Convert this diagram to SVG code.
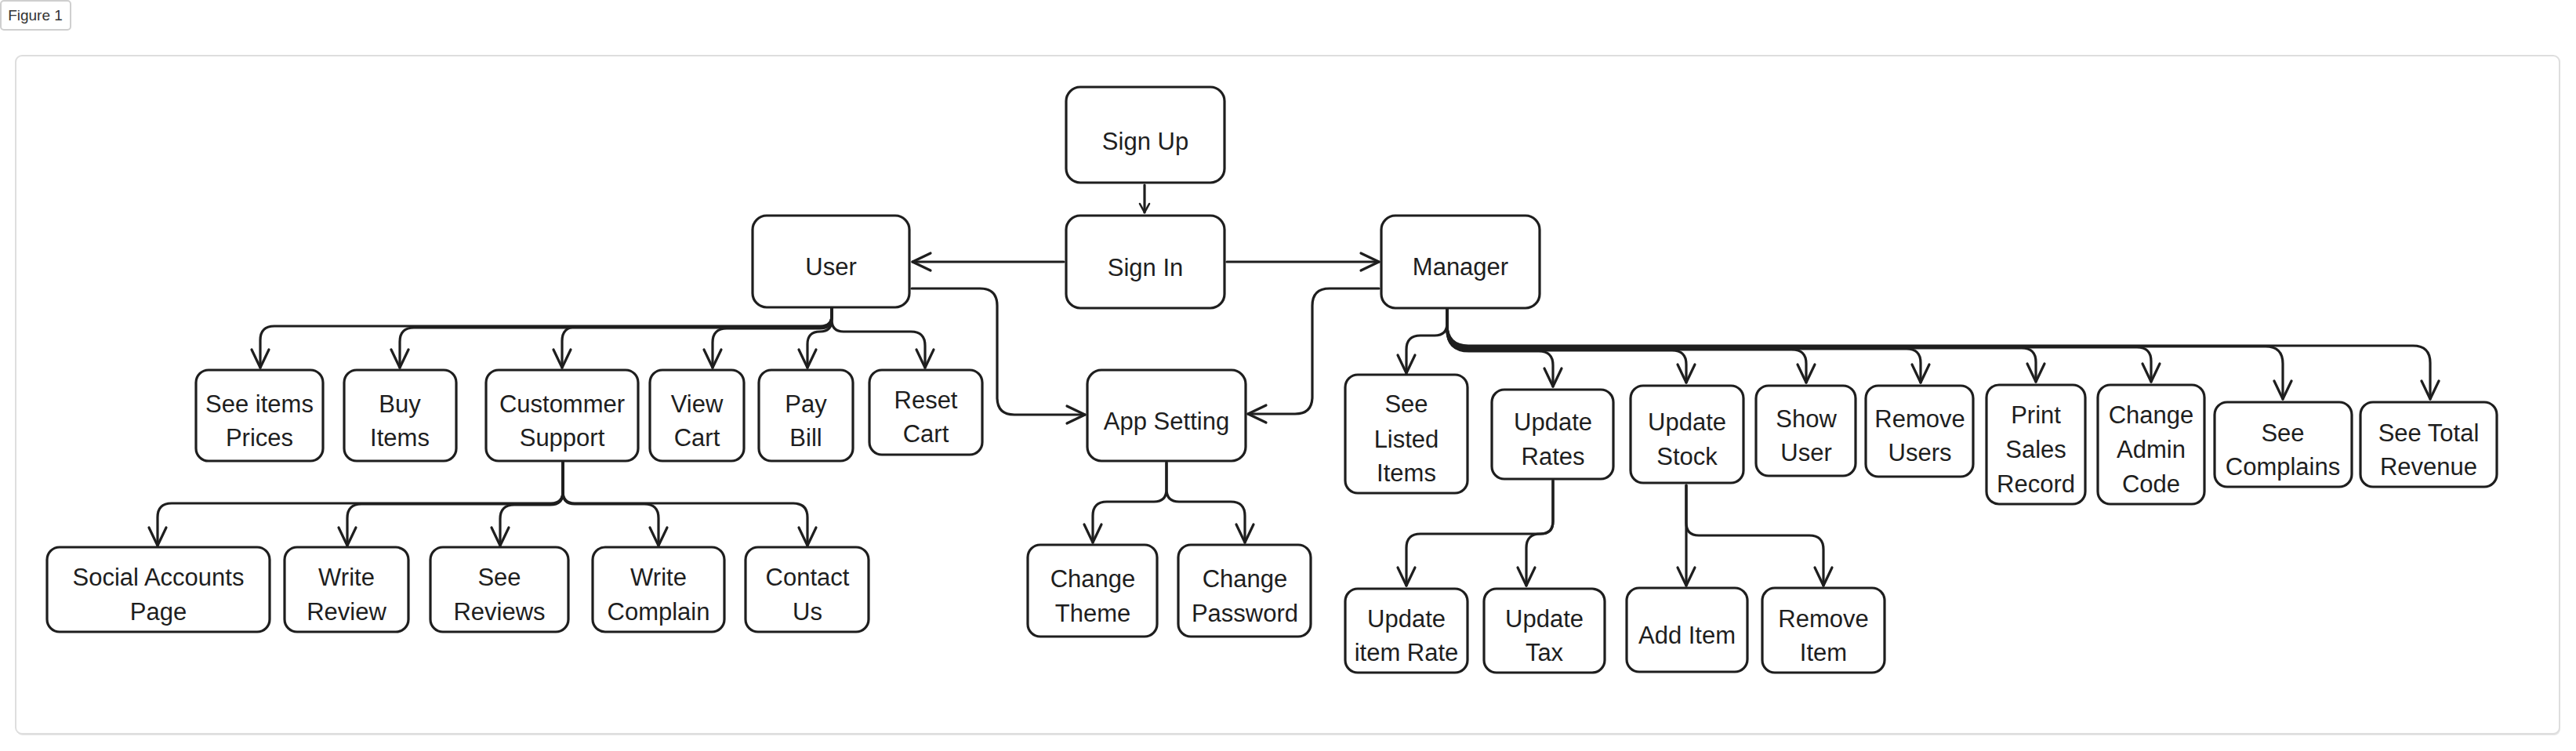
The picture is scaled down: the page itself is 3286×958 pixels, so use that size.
<svg xmlns="http://www.w3.org/2000/svg" width="3286" height="958" viewBox="0 0 3286 958">
<style>
.box{fill:#fff;stroke:#1e1e1e;stroke-width:3.2}
.t{font-family:"Liberation Sans",Arial,sans-serif;font-size:31px;fill:#1e1e1e;text-anchor:middle}
.c{fill:none;stroke:#1e1e1e;stroke-width:3.2;stroke-linecap:round;stroke-linejoin:round}
.ca{fill:none;stroke:#1e1e1e;stroke-width:3.2;stroke-linecap:round;stroke-linejoin:round;marker-end:url(#ah)}
</style>
<defs>
<marker id="ah" markerUnits="userSpaceOnUse" markerWidth="40" markerHeight="40" viewBox="-30 -20 40 40" refX="0" refY="0" orient="auto">
<path d="M -23 -11 L 0 0 L -23 11" fill="none" stroke="#1e1e1e" stroke-width="3.2" stroke-linecap="round" stroke-linejoin="round"/>
</marker>
<marker id="ahs" markerUnits="userSpaceOnUse" markerWidth="30" markerHeight="30" viewBox="-20 -15 30 30" refX="0" refY="0" orient="auto">
<path d="M -11 -6 L 0 0 L -11 6" fill="none" stroke="#1e1e1e" stroke-width="2.6" stroke-linecap="round" stroke-linejoin="round"/>
</marker>
</defs>
<rect width="3286" height="958" fill="#fff"/>
<g id="frame">
<rect x="21" y="73" width="3245" height="865" rx="8" fill="#e6e6e6"/>
<rect x="20" y="71" width="3245" height="865" rx="8" fill="#fff" stroke="#dedede" stroke-width="2"/>
</g>
<g id="figure-label">
<rect x="1" y="1" width="89" height="37" rx="4" fill="#fff" stroke="#cfcfcf" stroke-width="2"/>
<text x="45" y="26" style="font-family:'Liberation Sans',Arial,sans-serif;font-size:19px;fill:#333;text-anchor:middle">Figure 1</text>
</g>

<g id="n-signup"><rect class="box" x="1360" y="111" width="202" height="122" rx="18"/><text class="t" x="1461" y="191">Sign Up</text></g>
<g id="n-signin"><rect class="box" x="1360" y="275" width="202" height="118" rx="18"/><text class="t" x="1461" y="352">Sign In</text></g>
<g id="n-user"><rect class="box" x="960" y="275" width="200" height="117" rx="18"/><text class="t" x="1060" y="351">User</text></g>
<g id="n-manager"><rect class="box" x="1762" y="275" width="202" height="118" rx="18"/><text class="t" x="1863" y="351">Manager</text></g>
<g id="n-appsetting"><rect class="box" x="1387" y="472" width="202" height="116" rx="18"/><text class="t" x="1488" y="548">App Setting</text></g>

<g id="n-seeitems"><rect class="box" x="250" y="472" width="162" height="116" rx="16"/><text class="t" x="331" y="526">See items</text><text class="t" x="331" y="569">Prices</text></g>
<g id="n-buyitems"><rect class="box" x="439" y="472" width="143" height="116" rx="16"/><text class="t" x="510" y="526">Buy</text><text class="t" x="510" y="569">Items</text></g>
<g id="n-custsupport"><rect class="box" x="620" y="472" width="194" height="116" rx="16"/><text class="t" x="717" y="526">Custommer</text><text class="t" x="717" y="569">Support</text></g>
<g id="n-viewcart"><rect class="box" x="829" y="472" width="120" height="116" rx="16"/><text class="t" x="889" y="526">View</text><text class="t" x="889" y="569">Cart</text></g>
<g id="n-paybill"><rect class="box" x="968" y="472" width="120" height="116" rx="16"/><text class="t" x="1028" y="526">Pay</text><text class="t" x="1028" y="569">Bill</text></g>
<g id="n-resetcart"><rect class="box" x="1109" y="472" width="144" height="108" rx="16"/><text class="t" x="1181" y="521">Reset</text><text class="t" x="1181" y="564">Cart</text></g>

<g id="n-social"><rect class="box" x="60" y="698" width="284" height="108" rx="16"/><text class="t" x="202" y="747">Social Accounts</text><text class="t" x="202" y="791">Page</text></g>
<g id="n-writereview"><rect class="box" x="363" y="698" width="158" height="108" rx="16"/><text class="t" x="442" y="747">Write</text><text class="t" x="442" y="791">Review</text></g>
<g id="n-seereviews"><rect class="box" x="549" y="698" width="176" height="108" rx="16"/><text class="t" x="637" y="747">See</text><text class="t" x="637" y="791">Reviews</text></g>
<g id="n-writecomplain"><rect class="box" x="756" y="698" width="168" height="108" rx="16"/><text class="t" x="840" y="747">Write</text><text class="t" x="840" y="791">Complain</text></g>
<g id="n-contactus"><rect class="box" x="951" y="698" width="157" height="108" rx="16"/><text class="t" x="1030" y="747">Contact</text><text class="t" x="1030" y="791">Us</text></g>

<g id="n-changetheme"><rect class="box" x="1311" y="695" width="165" height="117" rx="16"/><text class="t" x="1394" y="749">Change</text><text class="t" x="1394" y="793">Theme</text></g>
<g id="n-changepassword"><rect class="box" x="1503" y="695" width="169" height="117" rx="16"/><text class="t" x="1588" y="749">Change</text><text class="t" x="1588" y="793">Password</text></g>

<g id="n-seelisted"><rect class="box" x="1716" y="478" width="156" height="151" rx="16"/><text class="t" x="1794" y="526">See</text><text class="t" x="1794" y="571">Listed</text><text class="t" x="1794" y="614">Items</text></g>
<g id="n-updaterates"><rect class="box" x="1903" y="497" width="155" height="114" rx="16"/><text class="t" x="1981" y="549">Update</text><text class="t" x="1981" y="593">Rates</text></g>
<g id="n-updatestock"><rect class="box" x="2080" y="492" width="144" height="124" rx="16"/><text class="t" x="2152" y="549">Update</text><text class="t" x="2152" y="593">Stock</text></g>
<g id="n-showuser"><rect class="box" x="2240" y="492" width="127" height="115" rx="16"/><text class="t" x="2304" y="545">Show</text><text class="t" x="2304" y="588">User</text></g>
<g id="n-removeusers"><rect class="box" x="2380" y="492" width="137" height="116" rx="16"/><text class="t" x="2449" y="545">Remove</text><text class="t" x="2449" y="588">Users</text></g>
<g id="n-printsales"><rect class="box" x="2534" y="491" width="126" height="152" rx="16"/><text class="t" x="2597" y="540">Print</text><text class="t" x="2597" y="584">Sales</text><text class="t" x="2597" y="628">Record</text></g>
<g id="n-changeadmin"><rect class="box" x="2676" y="491" width="136" height="152" rx="16"/><text class="t" x="2744" y="540">Change</text><text class="t" x="2744" y="584">Admin</text><text class="t" x="2744" y="628">Code</text></g>
<g id="n-seecomplains"><rect class="box" x="2825" y="513" width="175" height="108" rx="16"/><text class="t" x="2912" y="563">See</text><text class="t" x="2912" y="606">Complains</text></g>
<g id="n-seetotal"><rect class="box" x="3011" y="513" width="174" height="108" rx="16"/><text class="t" x="3098" y="563">See Total</text><text class="t" x="3098" y="606">Revenue</text></g>

<g id="n-updateitemrate"><rect class="box" x="1716" y="751" width="156" height="107" rx="16"/><text class="t" x="1794" y="800">Update</text><text class="t" x="1794" y="843">item Rate</text></g>
<g id="n-updatetax"><rect class="box" x="1893" y="751" width="154" height="107" rx="16"/><text class="t" x="1970" y="800">Update</text><text class="t" x="1970" y="843">Tax</text></g>
<g id="n-additem"><rect class="box" x="2075" y="750" width="154" height="107" rx="16"/><text class="t" x="2152" y="821">Add Item</text></g>
<g id="n-removeitem"><rect class="box" x="2248" y="750" width="156" height="108" rx="16"/><text class="t" x="2326" y="800">Remove</text><text class="t" x="2326" y="843">Item</text></g>

<g id="connectors">
<path class="c" d="M 1460 236 V 271" marker-end="url(#ahs)"/>
<path class="ca" d="M 1357 334 H 1164"/>
<path class="ca" d="M 1565 334 H 1759"/>
<path class="ca" d="M 1163 368 H 1250 Q 1272 368 1272 390 V 507 Q 1272 529 1294 529 H 1384"/>
<path class="ca" d="M 1759 368 H 1696 Q 1674 368 1674 390 V 506 Q 1674 528 1652 528 H 1592"/>

<path class="ca" d="M 1061 393 V 402 Q 1061 416 1047 416 H 350 Q 332 416 332 434 V 469"/>
<path class="ca" d="M 1061 393 V 403 Q 1061 418 1046 418 H 528 Q 510 418 510 436 V 469"/>
<path class="ca" d="M 1061 393 V 403 Q 1061 417 1047 417 H 735 Q 717 417 717 435 V 469"/>
<path class="ca" d="M 1061 393 V 404 Q 1061 419 1046 419 H 927 Q 909 419 909 437 V 469"/>
<path class="ca" d="M 1061 393 V 408 Q 1061 423 1046 423 Q 1030 423 1030 439 V 469"/>
<path class="ca" d="M 1061 393 V 408 Q 1061 423 1076 423 H 1162 Q 1180 423 1180 441 V 469"/>

<path class="ca" d="M 718 590 V 627 Q 718 642 703 642 H 219 Q 201 642 201 660 V 696"/>
<path class="ca" d="M 718 590 V 628 Q 718 643 703 643 H 461 Q 443 643 443 661 V 696"/>
<path class="ca" d="M 718 590 V 628 Q 718 644 702 644 H 656 Q 638 644 638 662 V 696"/>
<path class="ca" d="M 718 590 V 628 Q 718 643 733 643 H 822 Q 840 643 840 661 V 696"/>
<path class="ca" d="M 718 590 V 627 Q 718 642 733 642 H 1012 Q 1030 642 1030 660 V 696"/>

<path class="ca" d="M 1488 590 V 624 Q 1488 640 1472 640 H 1412 Q 1394 640 1394 658 V 692"/>
<path class="ca" d="M 1488 590 V 624 Q 1488 640 1504 640 H 1570 Q 1588 640 1588 658 V 692"/>

<path class="ca" d="M 1846 394 V 412 Q 1846 428 1830 428 H 1812 Q 1794 428 1794 446 V 476"/>
<path class="ca" d="M 1846 394 V 420 Q 1846 448 1874 448 H 1963 Q 1981 448 1981 466 V 493"/>
<path class="ca" d="M 1846 394 V 420 Q 1846 447 1873 447 H 2133 Q 2151 447 2151 465 V 488"/>
<path class="ca" d="M 1846 394 V 419 Q 1846 446 1873 446 H 2286 Q 2304 446 2304 464 V 488"/>
<path class="ca" d="M 1846 394 V 418 Q 1846 445 1873 445 H 2432 Q 2450 445 2450 463 V 488"/>
<path class="ca" d="M 1846 394 V 417 Q 1846 444 1873 444 H 2579 Q 2597 444 2597 462 V 487"/>
<path class="ca" d="M 1846 394 V 416 Q 1846 443 1873 443 H 2726 Q 2744 443 2744 461 V 487"/>
<path class="ca" d="M 1846 394 V 415 Q 1846 442 1873 442 H 2890 Q 2912 442 2912 464 V 509"/>
<path class="ca" d="M 1846 394 V 414 Q 1846 441 1873 441 H 3078 Q 3100 441 3100 463 V 509"/>

<path class="ca" d="M 1981 613 V 665 Q 1981 681 1965 681 H 1812 Q 1794 681 1794 699 V 747"/>
<path class="ca" d="M 1981 613 V 665 Q 1981 681 1965 681 Q 1947 681 1947 699 V 747"/>
<path class="ca" d="M 2151 619 V 747"/>
<path class="ca" d="M 2151 619 V 667 Q 2151 683 2167 683 H 2308 Q 2326 683 2326 701 V 747"/>
</g>
</svg>
